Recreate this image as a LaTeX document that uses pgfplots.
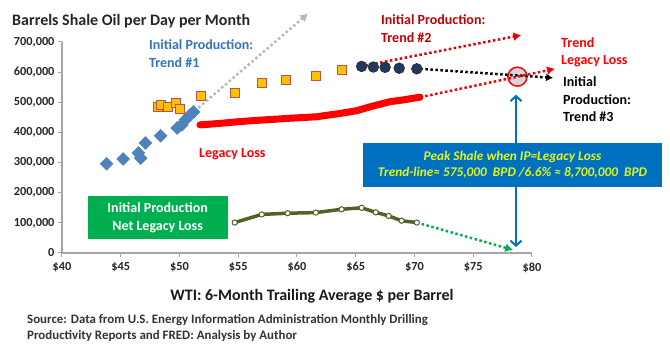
\documentclass[border=0pt]{standalone}
\usepackage{pgfplots}
\pgfplotsset{compat=1.18}
\usepackage{fontspec}
\setmainfont{Carlito}
\usetikzlibrary{arrows.meta}
\definecolor{ipblue}{RGB}{79,129,189}
\definecolor{boxblue}{RGB}{0,112,192}
\definecolor{sqfill}{RGB}{255,192,0}
\definecolor{sqedge}{RGB}{192,80,77}
\definecolor{navy}{RGB}{31,56,100}
\definecolor{olive}{RGB}{79,98,40}
\definecolor{grn}{RGB}{0,176,80}
\definecolor{darkred}{RGB}{192,0,0}
\definecolor{txtblue}{RGB}{52,115,190}
\definecolor{ylw}{RGB}{225,245,30}
\definecolor{axgray}{RGB}{166,166,166}
\begin{document}
\begin{tikzpicture}
\begin{axis}[
  at={(0,0)}, anchor=south west,
  scale only axis, width=470pt, height=211pt,
  xmin=40, xmax=80, ymin=0, ymax=700000,
  axis x line*=bottom, axis y line*=left,
  axis line style={draw=axgray, line width=1.2pt},
  xtick={40,45,50,55,60,65,70,75,80},
  xticklabels={\$40,\$45,\$50,\$55,\$60,\$65,\$70,\$75,\$80},
  ytick={0,100000,200000,300000,400000,500000,600000,700000},
  scaled y ticks=false,
  yticklabel style={/pgf/number format/.cd, fixed, 1000 sep={,}},
  /pgf/number format/assume math mode=true,
  tick align=outside, major tick length=4pt,
  tick style={draw=axgray, line width=1pt},
  ticklabel style={font=\bfseries\fontsize{12.3}{14}\selectfont, text=black!85},
  xticklabel style={yshift=-2pt},
  clip=false,
]
% highlight circle
\draw[red, line width=1.5pt, fill=blue!8!gray!30] (axis cs:78.76,585000) circle[radius=9.5pt];
% trend lines
\addplot[draw=gray!55, line width=2.5pt, dash pattern=on 2.5pt off 2.5pt, -{Latex[length=8pt,width=9pt]}] coordinates {(51.3,471000) (60.96,795000)};
\addplot[draw=red!90!black, line width=2.5pt, dash pattern=on 2.5pt off 2.5pt, -{Latex[length=8pt,width=9pt]}] coordinates {(65.4,619000) (79.1,723000)};
\addplot[draw=black, line width=2.5pt, dash pattern=on 2.5pt off 2.5pt, -{Latex[length=7pt,width=8pt]}] coordinates {(70.5,611000) (81.8,581000)};
\addplot[draw=red, line width=2.5pt, dash pattern=on 2.5pt off 2.5pt, -{Latex[length=8pt,width=9pt]}] coordinates {(70.5,517000) (81.96,611000)};
\addplot[draw=grn, line width=2.5pt, dash pattern=on 2.5pt off 2.5pt, -{Latex[length=8pt,width=9pt]}] coordinates {(70.2,101000) (78.4,10000)};
% legacy loss
\addplot[draw=red, line width=7pt, line cap=round, line join=round] coordinates {
(51.74,425000) (53.45,430000) (55.15,436000) (56.57,440000) (59.40,447000) (61.67,452000) (63.66,463000) (65.07,472000) (66.21,485000) (67.91,502000) (69.05,508000) (70.47,517000)};
% initial production trend 1
\addplot[only marks, mark=square*, mark size=4.6pt, mark options={rotate=45, fill=ipblue, draw=ipblue}] coordinates {
(43.8,296000) (45.2,312000) (46.5,332000) (46.7,315000) (47.1,365000) (48.4,389000) (49.8,415000) (50.2,425000) (50.5,442000) (50.9,458000) (51.2,468000)};
% orange squares
\addplot[only marks, mark=square*, mark size=4.5pt, mark options={fill=sqfill, draw=sqedge, line width=0.9pt}] coordinates {
(48.2,485000) (48.4,491000) (49.0,485000) (49.7,499000) (50.0,478000) (51.8,521000) (54.7,531000) (57.0,565000) (59.1,575000) (61.6,588000) (63.8,608000)};
% navy circles
\addplot[only marks, mark=*, mark size=5.3pt, mark options={fill=navy, draw=black!80, line width=0.8pt}] coordinates {
(65.5,619000) (66.5,617000) (67.5,616000) (68.7,613000) (70.2,611000)};
% net legacy loss
\addplot[draw=olive, line width=3.5pt, mark=*, mark size=2.6pt, mark options={fill=white, draw=olive, line width=1pt}] coordinates {
(54.7,101000) (57.0,128000) (59.2,132000) (61.6,134000) (63.8,145000) (65.5,150000) (66.7,135000) (67.8,123000) (68.9,107000) (70.2,101000)};
% blue arrows
\draw[boxblue, line width=2pt, -{Straight Barb[length=5pt,width=11pt]}] (axis cs:78.64,365000) -- (axis cs:78.64,525000);
\draw[boxblue, line width=2pt, -{Straight Barb[length=5pt,width=11pt]}] (axis cs:78.64,219000) -- (axis cs:78.64,20000);
% boxes
\node[fill=boxblue, minimum width=299pt, minimum height=44pt, inner sep=0pt, align=center, text=ylw,
  font=\bfseries\itshape\fontsize{13.3}{16}\selectfont] at (axis cs:78.34,292000)
  {Peak Shale when IP=Legacy Loss\\Trend-line≈ 575,000\ \ BPD /6.6\% ≈ 8,700,000\ \ BPD};
\node[fill=grn, minimum width=140pt, minimum height=43pt, inner sep=0pt, align=center, text=white,
  font=\bfseries\fontsize{14}{18}\selectfont] at (axis cs:48.14,117000)
  {Initial Production\\Net Legacy Loss};
% annotations
\tikzset{ann/.style={anchor=west, inner sep=0pt, font=\bfseries\fontsize{14}{17}\selectfont}}
\node[ann, text=txtblue] at (axis cs:47.40,690000) {Initial Production:};
\node[ann, text=txtblue] at (axis cs:47.40,630000) {Trend \#1};
\node[ann, text=red] at (axis cs:51.66,328000) {Legacy Loss};
\node[ann, text=darkred] at (axis cs:67.15,773000) {Initial Production:};
\node[ann, text=darkred] at (axis cs:67.15,713000) {Trend \#2};
\node[ann, text=red] at (axis cs:82.47,697000) {Trend};
\node[ann, text=red] at (axis cs:82.47,637000) {Legacy Loss};
\node[ann, text=black] at (axis cs:82.64,567000) {Initial};
\node[ann, text=black] at (axis cs:82.64,508000) {Production:};
\node[ann, text=black] at (axis cs:82.64,451000) {Trend \#3};
\end{axis}
% outer texts (1pt = 1px, axis SW corner at pixel 62,253)
\node[anchor=west, inner sep=0pt, font=\bfseries\fontsize{16}{19}\selectfont, text=black!85] at (-50pt,232pt) {Barrels Shale Oil per Day per Month};
\node[inner sep=0pt, font=\bfseries\fontsize{16}{19}\selectfont, text=black!90] at (250pt,-43pt) {WTI: 6-Month Trailing Average \$ per Barrel};
\node[anchor=west, inner sep=0pt, font=\bfseries\fontsize{12.9}{15}\selectfont, text=black!80] at (-35pt,-67pt) {Source: Data from U.S. Energy Information Administration Monthly Drilling};
\node[anchor=west, inner sep=0pt, font=\bfseries\fontsize{12.9}{15}\selectfont, text=black!80] at (-35pt,-83pt) {Productivity Reports and FRED: Analysis by Author};
\pgfresetboundingbox
\path[use as bounding box] (-62pt,-97pt) rectangle (608pt,253pt);
\end{tikzpicture}
\end{document}
